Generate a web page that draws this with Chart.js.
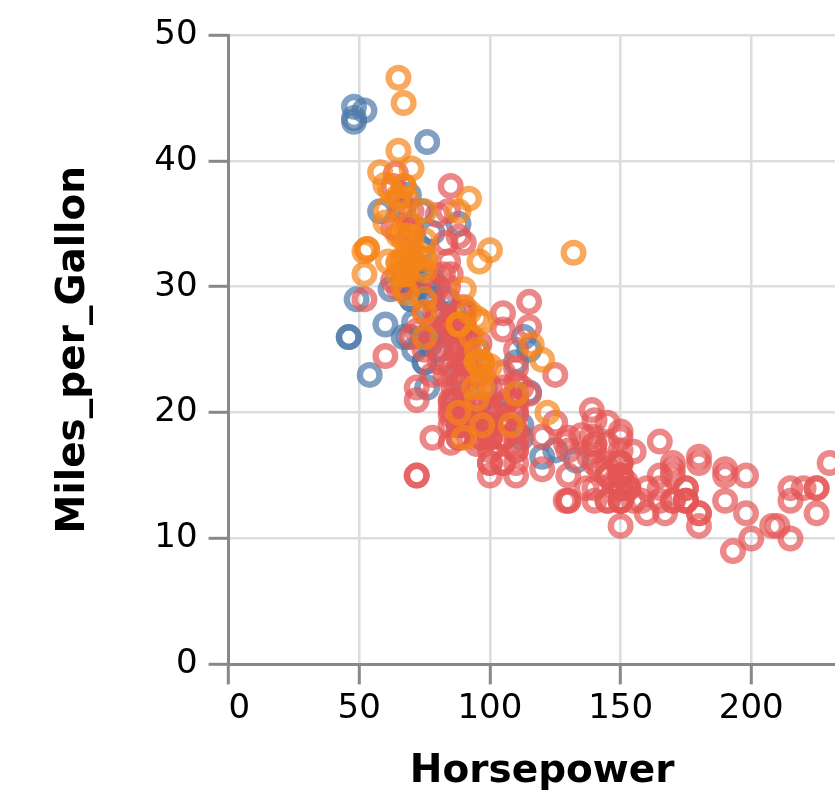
<!DOCTYPE html>
<html lang="en">
<head>
    <meta charset="UTF-8">
    <title>Horsepower vs Miles_per_Gallon</title>
    <script src="https://cdn.jsdelivr.net/npm/chart.js"></script>
    <style>
        body { margin: 0; overflow: hidden; background: #fff; }
        #wrap { width: 835px; height: 801px; overflow: hidden; }
    </style>
</head>
<body>
<div id="wrap">
    <canvas id="carsChart" width="872" height="801"></canvas>
</div>
<script>
    // [Horsepower, Miles_per_Gallon], by Origin
    const europe = [
        [46,26],[87,25],[90,24],[95,25],[113,26],[90,28],[70,30],[76,30],[60,27],[54,23],
        [112,18],[76,22],[87,21],[69,26],[46,26],[90,26],[49,29],[75,24],[91,20],[112,19],
        [110,24],[83,29],[67,26],[78,26],[75,24],[75,26],[67,31],[71,25],[70,29],[95,23],
        [88,23],[98,22],[115,25],[86,28],[81,25],[83,27],[70,29],[71,29.5],[102,20],[88,19],
        [120,16.5],[58,36],[78,29],[78,30.5],[110,21.5],[48,43.1],[103,20.3],[125,17],[115,21.6],[133,16.2],
        [71,31.5],[71,31.9],[77,25.4],[71,27.2],[69,37.3],[76,41.5],[78,34.3],[48,44.3],[48,43.4],[67,36.4],
        [67,30],[62,29.8],[88,35],[74,33],[80,28.1],[76,30.7],[74,36],[52,44]
    ];
    const japan = [
        [95,24],[88,27],[88,27],[95,25],[65,31],[69,35],[95,24],[97,19],[92,28],[97,23],
        [88,27],[88,20],[94,22],[90,18],[122,20],[67,31],[65,32],[52,31],[61,32],[97,24],
        [93,26],[75,29],[96,24],[97,24],[53,33],[70,32],[75,28],[108,19],[53,33],[68,31.5],
        [70,33.5],[75,26],[67,30],[97,22],[110,21.5],[52,32.8],[70,39.4],[60,36.1],[95,27.5],[97,27.2],
        [95,21.1],[97,23.9],[68,29.5],[65,34.1],[65,31.8],[60,38.1],[65,37.2],[90,29.8],[75,31.3],[92,37],
        [75,32.2],[65,46.6],[65,40.8],[67,44.6],[67,33.8],[132,32.7],[100,23.7],[72,32.4],[58,39.1],[60,35.1],
        [67,32.3],[65,37],[62,37.7],[68,34.1],[75,33.7],[75,32.4],[100,32.9],[74,31.6],[116,25.4],[120,24.2],
        [68,37],[68,31],[88,36],[75,36],[70,34],[67,38],[67,32],[67,38],[96,32]
    ];
    const usa = [
        [130,18],[165,15],[150,18],[150,16],[140,17],[198,15],[220,14],[215,14],[225,14],[190,15],
        [170,15],[160,14],[150,15],[225,14],[95,22],[97,18],[85,21],[90,21],[215,10],[200,10],
        [210,11],[193,9],[90,28],[100,19],[105,16],[100,17],[88,19],[100,18],[165,14],[175,14],
        [153,14],[150,14],[180,12],[170,13],[175,13],[110,18],[72,22],[100,19],[88,18],[86,23],
        [70,26],[80,25],[90,20],[86,21],[165,13],[175,14],[150,15],[153,14],[150,17],[208,11],
        [155,13],[160,12],[190,13],[150,15],[130,13],[140,13],[150,14],[86,22],[80,28],[175,13],
        [150,14],[145,13],[137,14],[150,15],[198,12],[150,13],[158,13],[150,14],[215,13],[225,12],
        [175,13],[105,18],[100,16],[100,18],[88,18],[95,23],[150,11],[167,12],[170,13],[180,12],
        [100,18],[72,21],[85,19],[107,21],[145,15],[230,16],[150,15],[180,11],[95,20],[100,19],
        [100,15],[80,26],[75,25],[100,16],[110,16],[105,18],[140,16],[150,13],[150,14],[140,14],
        [150,14],[75,28],[95,19],[105,18],[72,15],[72,15],[170,16],[145,15],[150,16],[148,14],
        [110,17],[105,16],[110,15],[95,18],[110,21],[110,20],[129,13],[83,23],[100,20],[78,23],
        [97,18],[90,19],[92,25],[79,26],[140,17.5],[150,16],[120,15.5],[152,14.5],[100,22],[105,22],
        [81,24],[90,22.5],[52,29],[60,24.5],[100,20],[78,18],[110,18.5],[95,17.5],[72,26.5],[150,13],
        [180,16.5],[145,13],[130,13],[150,13],[80,30],[96,25.5],[145,17.5],[110,17],[145,15.5],[130,15],
        [110,17.5],[105,20.5],[100,19],[98,18.5],[180,16],[170,15.5],[190,15.5],[149,16],[88,24.5],[89,25.5],
        [63,30.5],[83,33.5],[66,36.1],[110,19.9],[140,19.4],[139,20.2],[105,19.2],[95,20.5],[85,20.2],[88,25.1],
        [100,20.5],[90,19.4],[105,20.6],[85,20.8],[110,18.6],[120,18.1],[145,19.2],[165,17.7],[139,18.1],[140,17.5],
        [68,30],[75,30.9],[105,23.2],[85,23.8],[115,21.5],[85,19.8],[88,22.3],[90,20.2],[110,20.6],[130,17],
        [129,17.6],[138,16.5],[135,18.2],[155,16.9],[142,15.5],[125,19.2],[150,18.5],[80,35.7],[80,27.4],[125,23],
        [90,23.9],[70,34.2],[70,34.5],[90,28.4],[115,28.8],[115,26.8],[90,33.5],[70,32.1],[90,28],[88,26.4],
        [90,24.3],[90,19.1],[105,27.9],[84,27.2],[84,26.6],[92,25.8],[110,23.5],[84,30],[64,39],[63,34.7],
        [65,34.4],[65,29.9],[110,22.4],[105,26.6],[88,20.2],[85,17.6],[88,28],[88,27],[88,34],[85,31],
        [84,29],[90,27],[92,24],[63,38],[70,36],[110,25],[85,38],[92,26],[112,22],[84,36],
        [90,27],[86,27],[84,32],[79,28],[82,31]
    ];

    // first dataset is painted on top in Chart.js
    const origins = ['Japan', 'USA', 'Europe'];
    const originData = { Europe: europe, USA: usa, Japan: japan };
    const originColors = {
        Europe: 'rgba(76, 120, 168, 0.7)',
        Japan: 'rgba(245, 133, 24, 0.7)',
        USA: 'rgba(228, 87, 86, 0.7)'
    };

    const xTicks = [0, 50, 100, 150, 200];
    const yTicks = [0, 10, 20, 30, 40, 50];

    const font = 'DejaVu Sans';

    var ctx = document.getElementById('carsChart').getContext('2d');
    var carsChart = new Chart(ctx, {
        type: 'scatter',
        data: {
            datasets: origins.map(o => ({
                label: o,
                data: originData[o].map(p => ({ x: p[0], y: p[1] })),
                borderColor: originColors[o],
                backgroundColor: 'rgba(0,0,0,0)',
                pointRadius: 9.8,
                pointHoverRadius: 9.8,
                borderWidth: 6.4
            }))
        },
        options: {
            responsive: false,
            animation: false,
            devicePixelRatio: 1,
            layout: { padding: { top: 35, left: 0, right: 0, bottom: 0 } },
            plugins: {
                legend: { display: false },
                tooltip: { enabled: false }
            },
            scales: {
                x: {
                    type: 'linear',
                    min: 0,
                    max: 240,
                    afterBuildTicks: axis => { axis.ticks = xTicks.map(v => ({ value: v })); },
                    grid: { color: '#ddd', lineWidth: 2.6, tickLength: 20, tickColor: '#888', tickWidth: 3 },
                    border: { color: '#888', width: 3 },
                    ticks: {
                        color: '#000',
                        padding: 4,
                        font: { family: font, size: 34 },
                        // first label sits flush right of its tick, as in the original
                        callback: v => v === 0 ? '  0' : String(v)
                    },
                    title: {
                        display: true,
                        text: 'Horsepower',
                        color: '#000',
                        font: { family: font, size: 39, weight: 'bold' },
                        padding: { top: 15, bottom: 6 }
                    }
                },
                y: {
                    type: 'linear',
                    min: 0,
                    max: 50,
                    afterBuildTicks: axis => { axis.ticks = yTicks.map(v => ({ value: v })); },
                    grid: { color: '#ddd', lineWidth: 2.6, tickLength: 20, tickColor: '#888', tickWidth: 3 },
                    border: { color: '#888', width: 3 },
                    ticks: { color: '#000', padding: 11, font: { family: font, size: 34 } },
                    title: {
                        display: true,
                        text: 'Miles_per_Gallon',
                        color: '#000',
                        font: { family: font, size: 39, weight: 'bold' },
                        padding: { top: 50, bottom: 46.5 }
                    }
                }
            }
        }
    });
</script>
</body>
</html>
